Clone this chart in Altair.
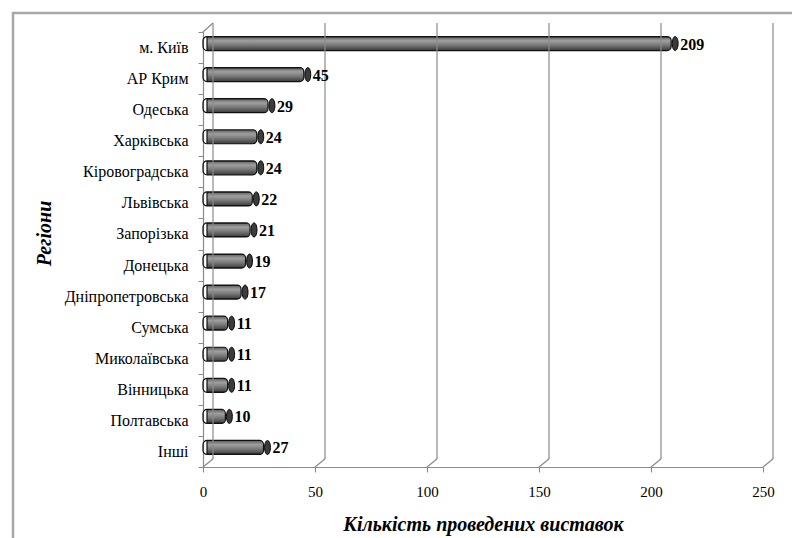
import altair as alt
import pandas as pd

regions = ["м. Київ", "АР Крим", "Одеська", "Харківська", "Кіровоградська",
           "Львівська", "Запорізька", "Донецька", "Дніпропетровська", "Сумська",
           "Миколаївська", "Вінницька", "Полтавська", "Інші"]
values = [209, 45, 29, 24, 24, 22, 21, 19, 17, 11, 11, 11, 10, 27]
ticks = [0, 50, 100, 150, 200, 250]

df = pd.DataFrame({"region": regions, "value": values})
tdf = pd.DataFrame({"t": ticks})
zdf = pd.DataFrame({"t": [0]})

W, H = 560, 435
FONT = "Liberation Serif"

xscale = alt.Scale(domain=[0, 250], nice=False, zero=True)
yscale = alt.Scale(domain=regions, paddingInner=0, paddingOuter=0)

xaxis = alt.Axis(values=ticks, title="Кількість проведених виставок",
                 titleFont=FONT, titleFontSize=20, titleFontStyle="italic",
                 titleFontWeight="bold", titleColor="#000000",
                 titleY=57, titleBaseline="middle",
                 labelFont=FONT, labelFontSize=15, labelColor="#000000",
                 labelPadding=12, labelFlush=False, tickSize=5, tickColor="#8a8a8a",
                 domainColor="#8a8a8a", domainWidth=1.2, grid=False)
yaxis = alt.Axis(title="Регіони", titleFont=FONT, titleFontSize=20,
                 titleFontStyle="italic", titleFontWeight="bold",
                 titleColor="#000000", titleX=-159, titleY=201,
                 titleAngle=270, titleBaseline="middle", titleAlign="center",
                 labelFont=FONT, labelFontSize=16, labelColor="#000000",
                 labelPadding=10, tickSize=5, tickColor="#8a8a8a",
                 tickBand="extent", domainColor="#8a8a8a", domainWidth=1.2,
                 grid=False)

X = lambda f: alt.X(f, scale=xscale, axis=xaxis)
Y = lambda f: alt.Y(f, scale=yscale, sort=regions, axis=yaxis)

base = alt.Chart(df)

bars = base.mark_bar(
    fill=alt.Gradient(
        gradient="linear", x1=0, x2=0, y1=0, y2=1,
        stops=[
            alt.GradientStop(color="#5a5a5a", offset=0),
            alt.GradientStop(color="#a0a0a0", offset=0.3),
            alt.GradientStop(color="#7a7a7a", offset=0.6),
            alt.GradientStop(color="#3a3a3a", offset=1),
        ],
    ),
    stroke="#111111", strokeWidth=1.2, size=14, xOffset=4, yOffset=-4, cornerRadius=4,
).encode(x=X("value:Q"), y=Y("region:N"))

border = alt.Chart(zdf).mark_rect(fill=None, stroke="#a8a8a8", strokeWidth=2.5, clip=False).encode(
    x=alt.value(-190), x2=alt.value(800), y=alt.value(-19), y2=alt.value(600)
)

grid = alt.Chart(tdf).mark_rule(color="#8a8a8a", strokeWidth=1.2, xOffset=10, x2Offset=10).encode(
    x=X("t:Q"), x2="t:Q", y=alt.value(-9), y2=alt.value(H - 8)
)

diag = alt.Chart(tdf).mark_rule(color="#8a8a8a", strokeWidth=1.2, x2Offset=10).encode(
    x=X("t:Q"), x2="t:Q", y=alt.value(H), y2=alt.value(H - 8)
)

diag_top = alt.Chart(zdf).mark_rule(color="#8a8a8a", strokeWidth=1.2, x2Offset=10).encode(
    x=X("t:Q"), x2="t:Q", y=alt.value(0), y2=alt.value(-9)
)

caps = base.mark_point(
    shape="M0,-1A0.42,1,0,1,1,0,1A0.42,1,0,1,1,0,-1Z",
    size=196, filled=True, fill="#3c3c3c", stroke="#000000", strokeWidth=1,
    opacity=1, xOffset=4, yOffset=-4,
).encode(x=X("value:Q"), y=Y("region:N"))

labels = base.mark_text(font=FONT, fontSize=16, fontWeight="bold", color="#000000",
                        align="left", baseline="middle", dx=9, dy=-3).encode(
    x=X("value:Q"), y=Y("region:N"), text="value:Q",
)

chart = alt.layer(bars, border, grid, diag, diag_top, caps, labels).properties(
    width=W, height=H,
    autosize=alt.AutoSizeParams(type="none"),
    padding={"left": 203, "top": 32, "right": 29, "bottom": 71},
    background="white",
).configure_view(stroke=None)

chart.save("out.html", embed_options={"renderer": "svg", "actions": False})
